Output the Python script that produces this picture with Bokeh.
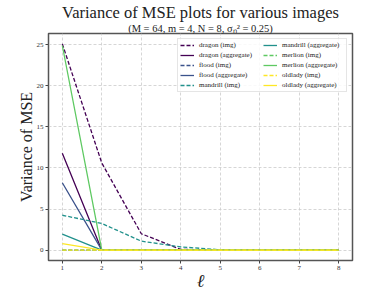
from bokeh.plotting import figure
from bokeh.models import Range1d, Legend, LegendItem, FixedTicker, Title
from bokeh.embed import file_html
from bokeh.resources import INLINE

# ---- data ----
levels = [1, 2, 3, 4, 5, 6, 7, 8]
dragon_img = [25.1, 10.6, 2.0, 0.1, 0.0, 0.0, 0.0, 0.0]
dragon_agg = [11.8, 0.0, 0.0, 0.0, 0.0, 0.0, 0.0, 0.0]
flood_img = [0.0, 0.0, 0.0, 0.0, 0.0, 0.0, 0.0, 0.0]
flood_agg = [8.2, 0.0, 0.0, 0.0, 0.0, 0.0, 0.0, 0.0]
mandrill_img = [4.25, 3.25, 1.1, 0.4, 0.05, 0.0, 0.0, 0.0]
mandrill_agg = [1.95, 0.0, 0.0, 0.0, 0.0, 0.0, 0.0, 0.0]
merlion_img = [0.0, 0.0, 0.0, 0.0, 0.0, 0.0, 0.0, 0.0]
merlion_agg = [24.9, 0.0, 0.0, 0.0, 0.0, 0.0, 0.0, 0.0]
oldlady_img = [0.0, 0.0, 0.0, 0.0, 0.0, 0.0, 0.0, 0.0]
oldlady_agg = [0.8, 0.0, 0.0, 0.0, 0.0, 0.0, 0.0, 0.0]

series = [
    ("dragon (img)", dragon_img, "#440154", True),
    ("dragon (aggregate)", dragon_agg, "#440154", False),
    ("flood (img)", flood_img, "#3b528b", True),
    ("flood (aggregate)", flood_agg, "#3b528b", False),
    ("mandrill (img)", mandrill_img, "#21918c", True),
    ("mandrill (aggregate)", mandrill_agg, "#21918c", False),
    ("merlion (img)", merlion_img, "#5ec962", True),
    ("merlion (aggregate)", merlion_agg, "#5ec962", False),
    ("oldlady (img)", oldlady_img, "#fde725", True),
    ("oldlady (aggregate)", oldlady_agg, "#fde725", False),
]
x_ticks = [1, 2, 3, 4, 5, 6, 7, 8]
y_ticks = [0, 5, 10, 15, 20, 25]
title_text = "Variance of MSE plots for various images"
subtitle_text = "(M = 64, m = 4, N = 8, \u03c3\u2099\u00b2 = 0.25)"
y_label = "Variance of MSE"
x_label = "\u2113"

W, H = 390, 293
SERIF = "Liberation Serif"

p = figure(width=W, height=H, output_backend="svg", toolbar_location=None,
           x_range=Range1d(0.65, 8.35), y_range=Range1d(-1.255, 26.36),
           min_border_left=48, min_border_right=38, min_border_top=33,
           min_border_bottom=33)

items = []
for name, ys, col, dashed in series:
    r = p.line(levels, ys, line_color=col, line_width=1.3,
               line_dash="4 2" if dashed else "solid")
    items.append(LegendItem(label=name, renderers=[r]))

legend = Legend(items=items, location="top_right", ncols=2,
                label_text_font=SERIF, label_text_font_size="7px",
                label_text_color="#222222",
                glyph_width=14, glyph_height=8, label_height=8,
                label_width=62, label_standoff=5, spacing=2, padding=2,
                margin=5, border_line_color="#cccccc", border_line_width=1,
                background_fill_alpha=0.85)
p.add_layout(legend, "center")

p.xaxis.ticker = FixedTicker(ticks=x_ticks)
p.yaxis.ticker = FixedTicker(ticks=y_ticks)
for ax in (p.xaxis, p.yaxis):
    ax.axis_line_color = None
    ax.major_tick_line_color = "#444444"
    ax.major_tick_in = 0
    ax.major_tick_out = 3
    ax.minor_tick_line_color = None
    ax.major_label_text_font = SERIF
    ax.major_label_text_font_size = "7px"
    ax.major_label_text_color = "#333333"
    ax.major_label_standoff = 2
    ax.axis_label_text_font = SERIF
    ax.axis_label_text_font_style = "normal"
    ax.axis_label_text_color = "#222222"

p.yaxis.axis_label = y_label
p.yaxis.axis_label_text_font_size = "16px"
p.yaxis.axis_label_standoff = -1

p.grid.grid_line_color = "#cccccc"
p.grid.grid_line_dash = "3 2"
p.grid.grid_line_width = 0.8
p.outline_line_color = "#555555"
p.outline_line_width = 1.5
p.background_fill_color = "white"
p.border_fill_color = "white"

# main title (the title added last sits closest to the frame)
p.title.text = title_text
p.title.align = "center"
p.title.text_font = SERIF
p.title.text_font_size = "16.5px"
p.title.text_font_style = "normal"
p.title.text_color = "#222222"
p.title.standoff = -3
p.add_layout(Title(text=subtitle_text, align="center", text_font=SERIF,
                   text_font_size="10.5px", text_font_style="normal",
                   text_color="#222222", standoff=0), "above")

# x-axis label as a title below the axis
p.add_layout(Title(text=x_label, align="center", text_font=SERIF,
                   text_font_size="18px", text_font_style="italic",
                   text_color="#222222", standoff=-7), "below")

open("out.html", "w").write(file_html(p, INLINE))
